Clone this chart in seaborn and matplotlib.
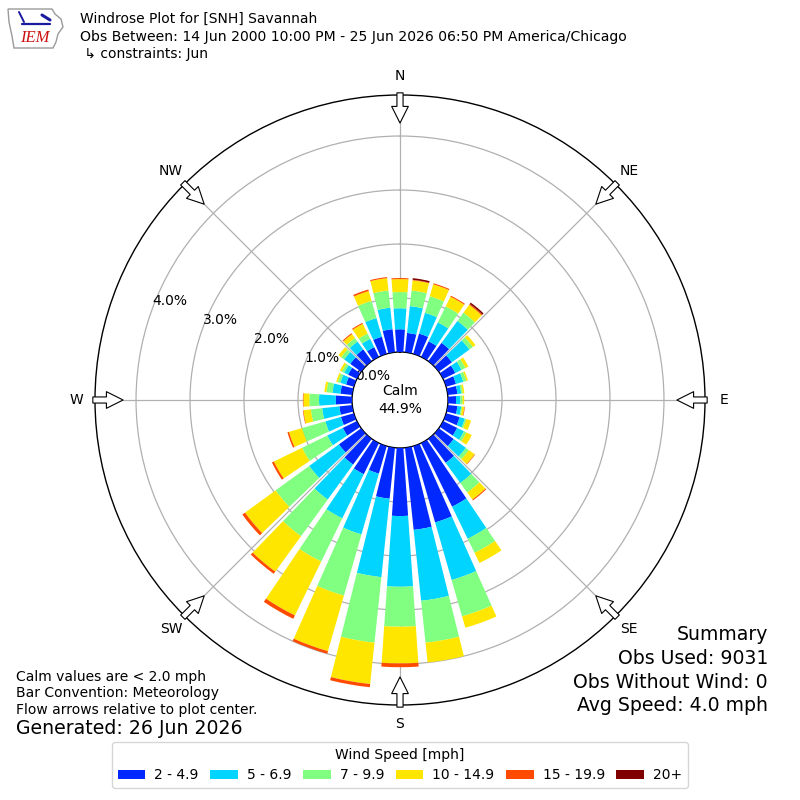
import numpy as np
import pandas as pd
import matplotlib
matplotlib.use("Agg")
import matplotlib.pyplot as plt
from matplotlib.patches import Patch, Polygon
import seaborn as sns

# ---------------- data (percent of observations) ----------------
directions = [0, 10, 20, 30, 40, 50, 60, 70, 80, 90, 100, 110, 120, 130, 140, 150, 160, 170,
              180, 190, 200, 210, 220, 230, 240, 250, 260, 270, 280, 290, 300, 310, 320, 330, 340, 350]
pct_2_49 = [0.42, 0.36, 0.39, 0.32, 0.42, 0.30, 0.25, 0.19, 0.18, 0.15, 0.18, 0.26, 0.29, 0.34, 0.55, 1.31, 1.47, 1.53,
            1.26, 0.95, 0.53, 0.64, 0.59, 0.51, 0.29, 0.25, 0.24, 0.30, 0.22, 0.15, 0.18, 0.25, 0.27, 0.20, 0.33, 0.43]
pct_5_69 = [0.39, 0.50, 0.40, 0.39, 0.50, 0.40, 0.13, 0.14, 0.07, 0.08, 0.07, 0.10, 0.14, 0.28, 0.46, 0.66, 1.11, 1.32,
            1.31, 1.46, 1.17, 0.91, 0.80, 0.68, 0.32, 0.30, 0.32, 0.31, 0.15, 0.11, 0.08, 0.14, 0.18, 0.17, 0.36, 0.40]
pct_7_99 = [0.30, 0.29, 0.32, 0.33, 0.19, 0.08, 0.08, 0.06, 0.03, 0.04, 0.02, 0.03, 0.05, 0.07, 0.22, 0.29, 0.70, 0.78,
            0.74, 1.22, 1.18, 0.89, 0.84, 0.77, 0.52, 0.45, 0.21, 0.18, 0.11, 0.05, 0.05, 0.07, 0.08, 0.11, 0.33, 0.32]
pct_10_149 = [0.24, 0.19, 0.23, 0.20, 0.18, 0.06, 0.06, 0.03, 0.03, 0.03, 0.04, 0.09, 0.11, 0.13, 0.16, 0.21, 0.22, 0.37,
              0.68, 0.77, 1.07, 1.11, 0.81, 0.70, 0.58, 0.25, 0.14, 0.11, 0.04, 0.03, 0.04, 0.06, 0.09, 0.20, 0.19, 0.23]
pct_15_199 = [0.02, 0.01, 0.02, 0.02, 0.02, 0.00, 0.00, 0.00, 0.00, 0.00, 0.01, 0.00, 0.00, 0.01, 0.02, 0.00, 0.00, 0.00,
              0.07, 0.06, 0.05, 0.07, 0.05, 0.06, 0.04, 0.03, 0.01, 0.01, 0.00, 0.00, 0.00, 0.00, 0.02, 0.02, 0.03, 0.02]
pct_20p = [0.00, 0.03, 0.00, 0.00, 0.03, 0.00, 0.00, 0.00, 0.00, 0.00, 0.00, 0.00, 0.00, 0.00, 0.00, 0.00, 0.00, 0.00,
           0.00, 0.00, 0.00, 0.00, 0.00, 0.00, 0.00, 0.00, 0.00, 0.00, 0.00, 0.00, 0.00, 0.00, 0.00, 0.00, 0.00, 0.00]

speed_labels = ["2 - 4.9", "5 - 6.9", "7 - 9.9", "10 - 14.9", "15 - 19.9", "20+"]
speed_colors = ["#0028ff", "#00d4ff", "#80ff80", "#ffe600", "#ff4a00", "#800000"]
compass_deg = [0, 45, 90, 135, 180, 225, 270, 315]
compass_labels = ["N", "NE", "E", "SE", "S", "SW", "W", "NW"]
ring_values = [0, 1, 2, 3, 4]
ring_labels = ["0.0%", "1.0%", "2.0%", "3.0%", "4.0%"]
calm_pct = 44.9

df = pd.DataFrame({"dir": directions, speed_labels[0]: pct_2_49, speed_labels[1]: pct_5_69,
                   speed_labels[2]: pct_7_99, speed_labels[3]: pct_10_149,
                   speed_labels[4]: pct_15_199, speed_labels[5]: pct_20p})

# ---------------- figure ----------------
sns.set_style("white")
plt.rcParams["font.family"] = ["DejaVu Sans"]
plt.rcParams["text.color"] = "black"
plt.rcParams["xtick.color"] = "black"
plt.rcParams["ytick.color"] = "black"
plt.rcParams["axes.labelcolor"] = "black"
palette = sns.color_palette(speed_colors)

fig = plt.figure(figsize=(8, 8), dpi=100)
ax = fig.add_axes([0.11875, 0.11875, 0.7625, 0.7625], projection="polar")
ax.set_theta_zero_location("N")
ax.set_theta_direction(-1)
ax.set_rorigin(-0.889)
ax.set_ylim(0, 4.76)

theta = np.radians(df["dir"].to_numpy(dtype=float))
width = np.radians(8.0)
bottom = np.zeros(len(df))
for lab, col in zip(speed_labels, palette):
    vals = df[lab].to_numpy(dtype=float)
    ax.bar(theta, vals, width=width, bottom=bottom, color=col, linewidth=0, zorder=3)
    bottom = bottom + vals

ax.set_xticks(np.radians(compass_deg))
ax.set_xticklabels(compass_labels, fontsize=10)
ax.tick_params(axis="x", pad=3, labelcolor="black")
ax.set_yticks(ring_values)
ax.set_yticklabels(ring_labels, fontsize=10)
ax.tick_params(axis="y", labelcolor="black")
ax.set_rlabel_position(290.3)
ax.grid(True, color="#b0b0b0", linewidth=0.9)
for name, sp in ax.spines.items():
    sp.set_color("black")
    sp.set_linewidth(1.0)

# flow arrows
for d in compass_deg:
    t = np.radians(d)
    ax.annotate("", xy=(t, 4.24), xytext=(t, 4.80),
                arrowprops=dict(arrowstyle="simple,head_length=0.6,head_width=0.6,tail_width=0.22",
                                fc="white", ec="black", lw=0.8, shrinkA=0, shrinkB=0,
                                mutation_scale=20),
                annotation_clip=False, zorder=5)

ax.text(0.5, 0.5, f"Calm\n{calm_pct:.1f}%", transform=ax.transAxes, ha="center", va="center",
        fontsize=10, linespacing=1.3, zorder=6, color="black")

# ---------------- header ----------------
def px(x, y):
    return x / 800.0, 1 - y / 800.0

iowa = [(8, 9), (52, 9), (55, 14), (61, 19), (63, 27), (58, 34), (56, 42), (53, 48), (14, 48), (12, 36), (9, 22)]
fig.patches.append(Polygon([px(*p) for p in iowa], closed=True, transform=fig.transFigure,
                           fill=False, edgecolor="#9a9a9a", linewidth=1.0))
fig.lines.append(plt.Line2D([px(22, 24)[0], px(50, 24)[0]], [px(22, 24)[1], px(50, 24)[1]],
                            transform=fig.transFigure, color="#1a1aa0", linewidth=1.6))
fig.lines.append(plt.Line2D([px(19, 12)[0], px(24, 22)[0]], [px(19, 12)[1], px(24, 22)[1]],
                            transform=fig.transFigure, color="#1a1aa0", linewidth=1.4))
fig.lines.append(plt.Line2D([px(42, 15)[0], px(50, 20)[0]], [px(42, 15)[1], px(50, 20)[1]],
                            transform=fig.transFigure, color="#1a1aa0", linewidth=2.2))
fig.text(*px(35, 38), "IEM", ha="center", va="center", fontsize=12, color="#cc1111",
         style="italic", family=["Liberation Serif", "DejaVu Serif"])

fig.text(*px(80, 19), "Windrose Plot for [SNH] Savannah", ha="left", va="center", fontsize=10)
fig.text(*px(80, 37), "Obs Between: 14 Jun 2000 10:00 PM - 25 Jun 2026 06:50 PM America/Chicago",
         ha="left", va="center", fontsize=10.1)
fig.text(*px(80, 54), " \u21b3 constraints: Jun", ha="left", va="center", fontsize=10)

# ---------------- footers ----------------
summary = ["Summary", "Obs Used: 9031", "Obs Without Wind: 0", "Avg Speed: 4.0 mph"]
for i, s in enumerate(summary):
    fig.text(*px(768, 635 + 23.5 * i), s, ha="right", va="center", fontsize=13.6)

notes = ["Calm values are < 2.0 mph", "Bar Convention: Meteorology", "Flow arrows relative to plot center."]
for i, s in enumerate(notes):
    fig.text(*px(16, 677 + 16.5 * i), s, ha="left", va="center", fontsize=10)
fig.text(*px(16, 729), "Generated: 26 Jun 2026", ha="left", va="center", fontsize=13.6)

handles = [Patch(facecolor=c, edgecolor="none") for c in palette]
leg = fig.legend(handles, speed_labels, loc="lower center", bbox_to_anchor=(0.5, 0.015),
                 ncol=6, title="Wind Speed [mph]", fontsize=10, title_fontsize=10,
                 handlelength=2.0, handleheight=0.66, handletextpad=0.65, columnspacing=0.82,
                 borderaxespad=0, frameon=True, fancybox=True, labelcolor="black")
leg.get_frame().set_edgecolor("#cccccc")
leg.get_title().set_color("black")

fig.savefig("out.png", dpi=100)
